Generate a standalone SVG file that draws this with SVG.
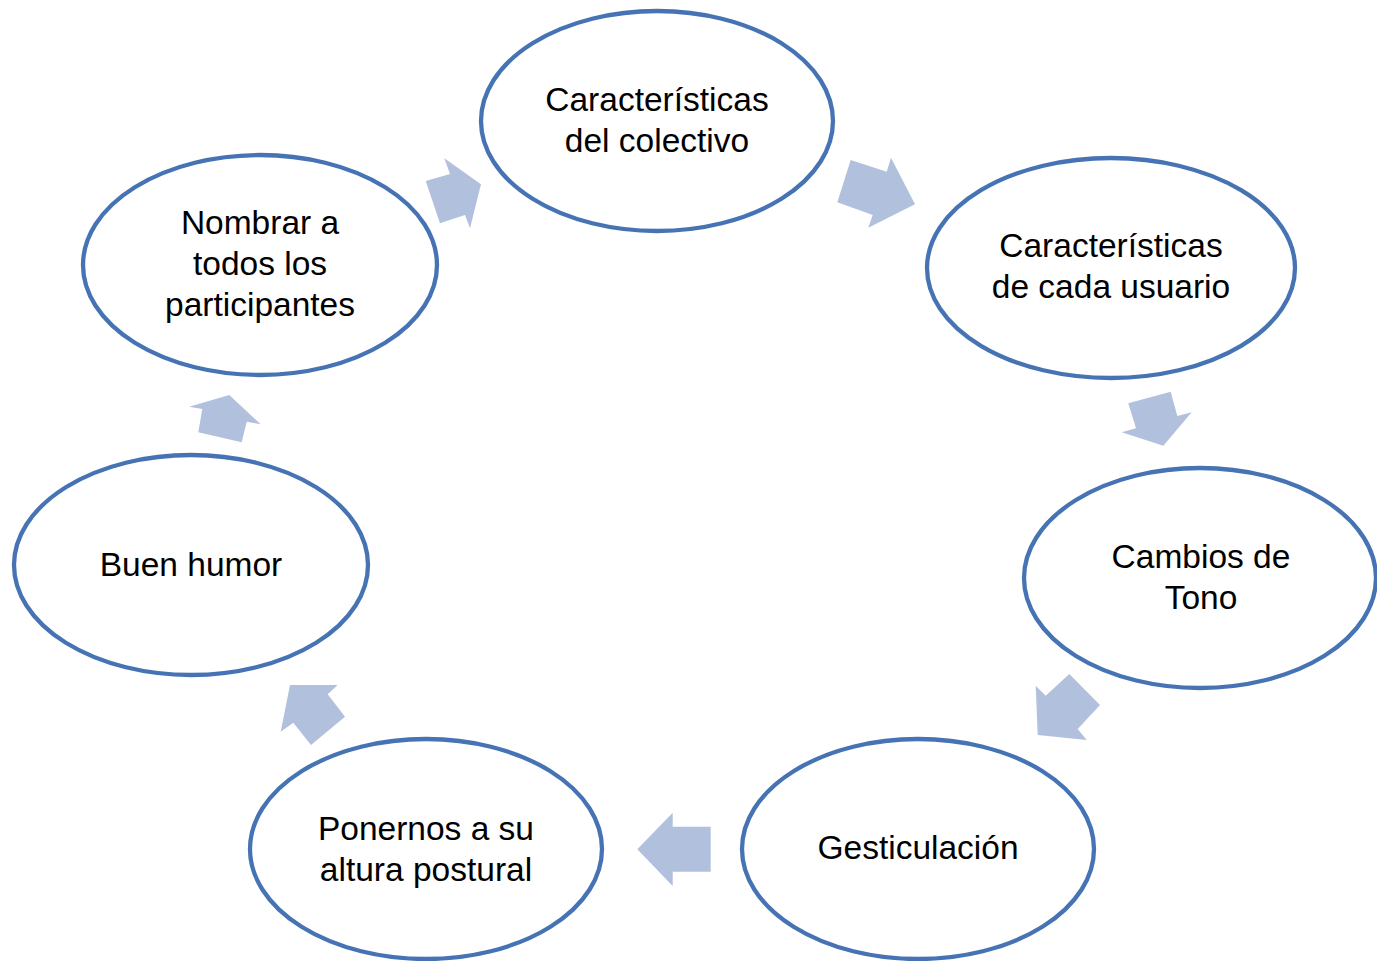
<svg xmlns="http://www.w3.org/2000/svg" width="1377" height="961" viewBox="0 0 1377 961">
<style>
.node ellipse{fill:#ffffff;stroke:#4673b3;stroke-width:4.3}
.node text{font-family:"Liberation Sans",Arial,sans-serif;font-size:33.5px;fill:#000000;text-anchor:middle}
.arrow{fill:#b1c1dd;stroke:none}
</style>
<rect width="1377" height="961" fill="#ffffff"/>
<g id="connectors">
<polygon class="arrow" points="850.7,160 886.7,171.7 891,157.7 915,204.3 868.3,227.7 872.7,215 837.3,202.3"/>
<polygon class="arrow" points="1128.3,403.3 1170.7,391.7 1177.3,416 1191.7,412.3 1163.3,445.7 1121.7,432.3 1136,428.3"/>
<polygon class="arrow" points="1069.3,674 1100,705 1077.7,729 1086.7,740 1037.7,735 1035.7,685.7 1045.7,695.7"/>
<polygon class="arrow" points="672.7,812.7 672.7,826.7 710.7,826.7 710.7,871.7 672.7,871.7 672.7,886 637.3,849.3"/>
<polygon class="arrow" points="290,685 337.7,685 327.7,694.3 345,716.7 311,745 293.3,722.7 280.7,731.7"/>
<polygon class="arrow" points="189,406.7 229.3,395 260.7,424.3 246.7,421.7 241.7,442.3 198.3,432.3 202.3,409"/>
<polygon class="arrow" points="425.7,181 450,174 444.3,158.3 481,184.3 470,228.3 465,215 440,223.3"/>
</g>
<g id="node1" class="node">
<ellipse cx="657" cy="121" rx="176" ry="110"/>
<text x="657" y="111">Características</text>
<text x="657" y="152">del colectivo</text>
</g>
<g id="node2" class="node">
<ellipse cx="1111" cy="268" rx="184" ry="110"/>
<text x="1111" y="257">Características</text>
<text x="1111" y="298">de cada usuario</text>
</g>
<g id="node3" class="node">
<ellipse cx="1200" cy="578" rx="176" ry="110"/>
<text x="1201" y="568">Cambios de</text>
<text x="1201" y="609">Tono</text>
</g>
<g id="node4" class="node">
<ellipse cx="918" cy="849" rx="176" ry="110"/>
<text x="918" y="859">Gesticulación</text>
</g>
<g id="node5" class="node">
<ellipse cx="426" cy="849" rx="176" ry="110"/>
<text x="426" y="840">Ponernos a su</text>
<text x="426" y="881">altura postural</text>
</g>
<g id="node6" class="node">
<ellipse cx="191" cy="565" rx="177" ry="110"/>
<text x="191" y="576">Buen humor</text>
</g>
<g id="node7" class="node">
<ellipse cx="260" cy="265" rx="177" ry="110"/>
<text x="260" y="234">Nombrar a</text>
<text x="260" y="275">todos los</text>
<text x="260" y="316">participantes</text>
</g>
</svg>
